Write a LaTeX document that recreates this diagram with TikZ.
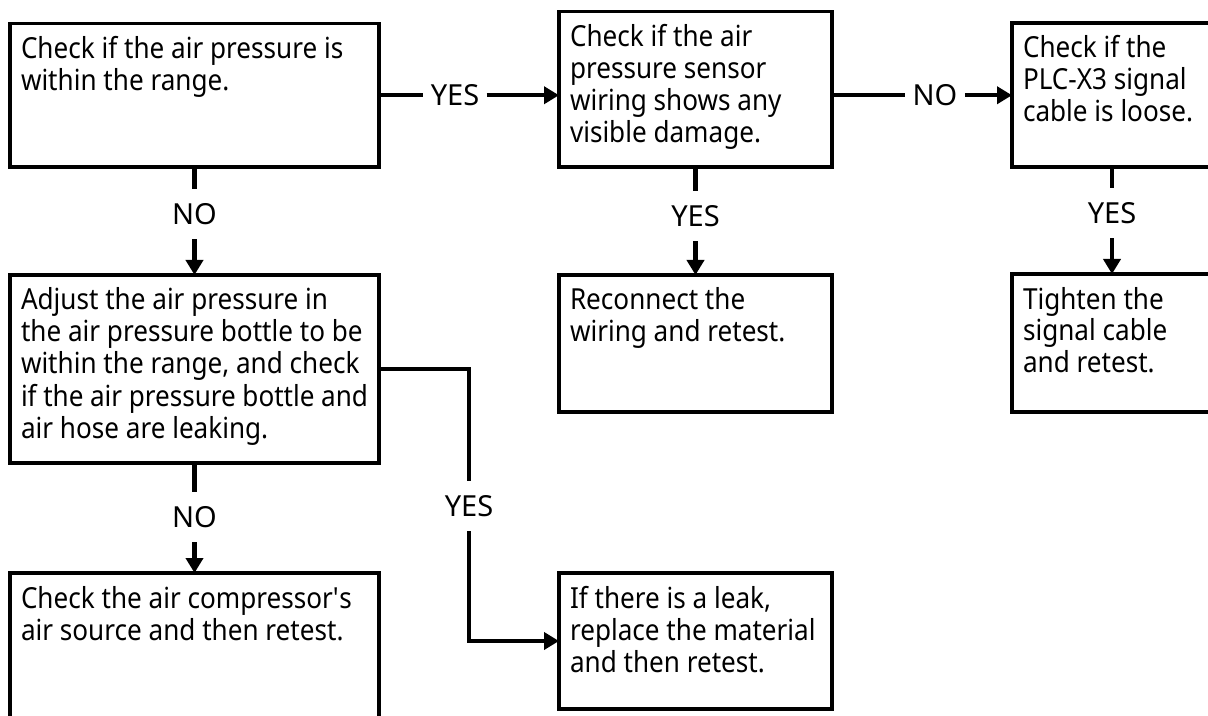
\documentclass[tikz,border=0pt]{standalone}
\usepackage{fontspec}
\setmainfont{Noto Sans}[FakeStretch=0.9]
\newfontfamily\answerfont{Noto Sans}
\usetikzlibrary{arrows.meta}
\tikzset{
>={Triangle[length=7.5pt, width=8.5pt]}, % solid arrow heads
link/.style={line width=2.25pt}, % the thick connectors
flowbox/.style={draw, line width=1.6pt, anchor=north west, outer sep=0pt, inner xsep=5.5pt, inner ysep=5.5pt}, % the step boxes
answer/.style={font=\answerfont\fontsize{14.5}{16}\selectfont, inner xsep=3.5pt, inner ysep=7pt}, % YES / NO on the connectors
}
% text of a box: width, height, lines
\newcommand{\flowtext}[3]{\parbox[t][#2][t]{#1}{\raggedright\rule{0pt}{12pt}#3}}

\begin{document}
\begin{tikzpicture}[x=0.5pt, y=-0.5pt, font=\fontsize{14.5}{16}\selectfont]
\useasboundingbox (0,0) rectangle (1208,716);
% first row
\node[flowbox] (pressure) at (10,23.5) {\flowtext{173.5pt}{60.75pt}{Check if the air pressure is\\within the range.}};
\node[flowbox] (wiring) at (559,11.7) {\flowtext{125.5pt}{66.65pt}{Check if the air\\pressure sensor\\wiring shows any\\visible damage.}};
\node[flowbox] (plc) at (1012,23) {\flowtext{89pt}{61pt}{Check if the\\PLC-X3 signal\\cable is loose.}};
% second row
\node[flowbox] (adjust) at (10,275) {\flowtext{173.5pt}{83pt}{Adjust the air pressure in\\the air pressure bottle to be\\within the range, and check\\if the air pressure bottle and\\air hose are leaking.}};
\node[flowbox] (reconnect) at (559,275) {\flowtext{125.5pt}{57.5pt}{Reconnect the\\wiring and retest.}};
\node[flowbox] (tighten) at (1012,274) {\flowtext{89pt}{58pt}{Tighten the\\signal cable\\and retest.}};
% third row
\node[flowbox] (compressor) at (10,573) {\flowtext{173.5pt}{74pt}{Check the air compressor\textquotesingle s\\air source and then retest.}};
\node[flowbox] (leak) at (559,573) {\flowtext{125.5pt}{57pt}{If there is a leak,\\replace the material\\and then retest.}};

% answers
\node[answer] (yes1) at (455,95.25) {YES};
\node[answer] (no2) at (935,95.25) {NO};
\node[answer] (no1) at (194.5,214) {NO};
\node[answer] (yes2) at (695.5,216) {YES};
\node[answer] (yes3) at (1112,213) {YES};
\node[answer] (no3) at (194.5,517) {NO};
\node[answer] (yes4) at (469,506) {YES};

\draw[link] (pressure.east) -- (yes1.west);
\draw[link, ->] (yes1.east) -- (yes1.east -| wiring.west);
\draw[link] (no2.west -| wiring.east) -- (no2.west);
\draw[link, ->] (no2.east) -- (no2.east -| plc.west);
\draw[link] (pressure.south) -- (no1.north);
\draw[link, ->] (no1.south) -- (adjust.north);
\draw[link] (wiring.south) -- (yes2.north);
\draw[link, ->] (yes2.south) -- (reconnect.north);
\draw[link] (plc.south) -- (yes3.north);
\draw[link, ->] (yes3.south) -- (tighten.north);
\draw[link] (adjust.south) -- (no3.north);
\draw[link, ->] (no3.south) -- (compressor.north);
\draw[link] (adjust.east) -| (yes4.north);
\draw[link, ->] (yes4.south) |- (leak.west);
\end{tikzpicture}
\end{document}
